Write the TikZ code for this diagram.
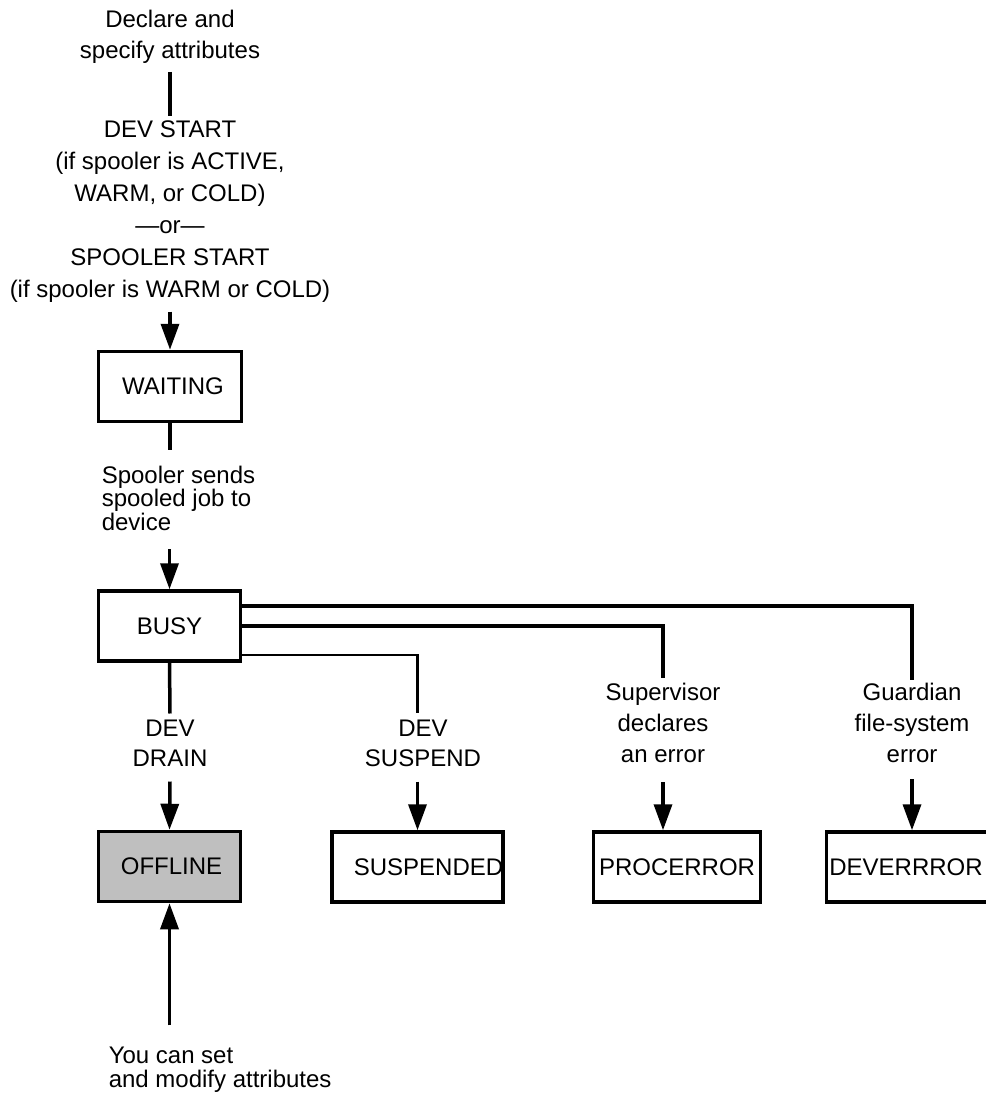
\documentclass[tikz,border=0pt]{standalone}
\usepackage{fontspec}
\setmainfont{Liberation Sans}
\usetikzlibrary{arrows.meta,positioning}

\begin{document}
\begin{tikzpicture}[x=1pt,y=-1pt,line width=3.5pt,
    statebox/.style={draw,minimum height=70pt,inner sep=0pt,font=\fontsize{24}{29}\selectfont},
    event/.style={align=center,inner sep=0pt,font=\fontsize{24}{31}\selectfont},
    remark/.style={align=left,inner sep=0pt,font=\fontsize{24}{23.5}\selectfont},
    arr/.style={-{Triangle[length=26pt,width=18pt]}}]
    \useasboundingbox (0,0) rectangle (985,1094);

    % states
    \node[statebox,minimum width=143pt] (waiting) at (170,386.5) {\hspace*{6pt}WAITING};
    \node[statebox,minimum width=142pt] (busy) at (169.5,626) {BUSY};
    \node[statebox,minimum width=142pt,fill=black!25] (offline) at (169.5,866.5) {\hspace*{4pt}OFFLINE};
    \node[statebox,minimum width=168pt] (suspended) at (417.5,867) {\hspace*{22pt}SUSPENDED};
    \node[statebox,minimum width=167pt] (procerror) at (677,867) {PROCERROR};
    \node[statebox,minimum width=171pt] (deverror) at (912,867) {DEVERRROR\hspace*{12pt}};

    % texts
    \node[event] (decl) at (170,36.5) {Declare and\\specify attributes};
    \node[event,font=\fontsize{24}{32}\selectfont] (start) at (170,212)
        {DEV START\\(if spooler is ACTIVE,\\WARM, or COLD)\\—or—\\SPOOLER START\\(if spooler is WARM or COLD)};
    \node[remark,anchor=west] (sends) at (100,498) {Spooler sends\\spooled job to\\device};
    \node[event,font=\fontsize{24}{30}\selectfont] (drain) at (170,743.5) {DEV\\DRAIN};
    \node[event,font=\fontsize{24}{30}\selectfont] (suspend) at (423,743.5) {DEV\\SUSPEND};
    \node[event] (supervisor) at (663,722.5) {Supervisor\\declares\\an error};
    \node[event] (guardian) at (912,722.5) {Guardian\\file-system\\error};
    \node[remark,anchor=west] (youcan) at (107,1069.5) {You can set\\and modify attributes};

    % connectors
    \draw ([yshift=-7pt]decl.south) -- ([yshift=3pt]start.north);
    \draw[arr] ([yshift=-7pt]start.south) -- (waiting.north);
    \draw (waiting.south) -- ([yshift=14pt]sends.north -| waiting.south);
    \draw[arr] ([yshift=-17pt]sends.south -| busy.north) -- (busy.north);
    \draw (busy.south) -- ([yshift=5pt]drain.north);
    \draw[arr] ([yshift=-13pt]drain.south) -- (offline.north); % drain
    \draw ([yshift=20pt]busy.east) -| ([yshift=1pt]guardian.north);
    \draw (busy.east) -| ([yshift=3pt]supervisor.north);
    \draw[line width=2.6pt] ([yshift=-29pt]busy.east) -| ([yshift=5pt]suspend.north -| suspended.north);
    \draw[arr] ([yshift=-13pt]suspend.south -| suspended.north) -- (suspended.north); % suspend
    \draw[arr] ([yshift=-18pt]supervisor.south) -- (procerror.north -| supervisor.south); % process error
    \draw[arr] ([yshift=-15pt]guardian.south) -- (deverror.north); % device error
    \draw[arr] ([yshift=20pt]youcan.north -| offline.south) -- (offline.south); % back up
\end{tikzpicture}
\end{document}
